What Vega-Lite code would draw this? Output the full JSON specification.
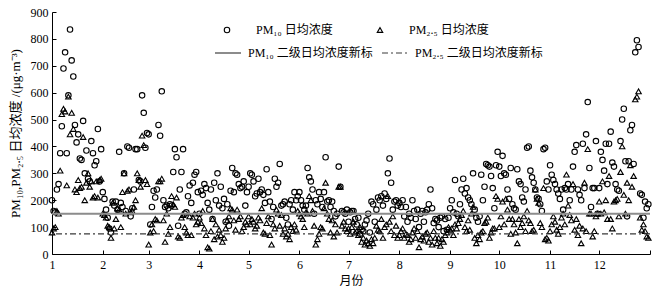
{
"$schema":"https://vega.github.io/schema/vega-lite/v6.json",
"width":598,"height":242,
"autosize":{"type":"none"},
"padding":{"left":52,"top":12,"right":5,"bottom":40},
"background":"white",
"config":{"view":{"stroke":null},"font":"Liberation Serif, Noto Sans CJK SC",
 "axis":{"domainColor":"black","tickColor":"black","labelColor":"black","titleColor":"black","labelFont":"Liberation Serif, Noto Sans CJK SC","titleFont":"Liberation Serif, Noto Sans CJK SC","labelFontSize":12,"titleFontSize":12,"titleFontWeight":"normal","grid":false,"tickSize":-4,"domainWidth":1,"tickWidth":1},
 "legend":{"labelFont":"Liberation Serif, Noto Sans CJK SC","labelFontSize":12,"labelColor":"black","padding":0}
},
"encoding":{"y":{"field":"value","type":"quantitative","scale":{"domain":[0,900],"nice":false},"axis":{"title":"PM₁₀,PM₂.₅ 日均浓度 /(μg·m⁻³)","titleFontSize":13,"values":[0,100,200,300,400,500,600,700,800,900],"labelPadding":8,"titlePadding":8}}},
"layer":[
{"data":{"values":[
{"d":1,"pm10":200,"pm25":80},{"d":2,"pm10":160,"pm25":95},{"d":3,"pm10":155,"pm25":100},{"d":4,"pm10":240,"pm25":160},{"d":5,"pm10":260,"pm25":150},{"d":6,"pm10":375,"pm25":310},{"d":7,"pm10":475,"pm25":520},{"d":8,"pm10":690,"pm25":540},{"d":9,"pm10":750,"pm25":530},{"d":10,"pm10":375,"pm25":255},
{"d":11,"pm10":590,"pm25":585},{"d":12,"pm10":835,"pm25":445},{"d":13,"pm10":720,"pm25":525},{"d":14,"pm10":660,"pm25":465},{"d":15,"pm10":480,"pm25":240},{"d":16,"pm10":415,"pm25":230},{"d":17,"pm10":445,"pm25":275},{"d":18,"pm10":355,"pm25":245},{"d":19,"pm10":350,"pm25":250},{"d":20,"pm10":495,"pm25":435},
{"d":21,"pm10":300,"pm25":200},{"d":22,"pm10":385,"pm25":265},{"d":23,"pm10":280,"pm25":300},{"d":24,"pm10":270,"pm25":250},{"d":25,"pm10":420,"pm25":270},{"d":26,"pm10":375,"pm25":210},{"d":27,"pm10":330,"pm25":215},{"d":28,"pm10":345,"pm25":270},{"d":29,"pm10":465,"pm25":210},{"d":30,"pm10":270,"pm25":275},
{"d":31,"pm10":390,"pm25":280},
{"d":32,"pm10":230,"pm25":150},{"d":33,"pm10":205,"pm25":145},{"d":34,"pm10":165,"pm25":135},{"d":35,"pm10":135,"pm25":105},{"d":36,"pm10":95,"pm25":100},{"d":37,"pm10":80,"pm25":60},{"d":38,"pm10":195,"pm25":190},{"d":39,"pm10":180,"pm25":95},{"d":40,"pm10":195,"pm25":130},{"d":41,"pm10":165,"pm25":170},
{"d":42,"pm10":380,"pm25":165},{"d":43,"pm10":190,"pm25":100},{"d":44,"pm10":175,"pm25":230},{"d":45,"pm10":300,"pm25":300},{"d":46,"pm10":160,"pm25":150},{"d":47,"pm10":400,"pm25":235},{"d":48,"pm10":395,"pm25":240},{"d":49,"pm10":140,"pm25":155},{"d":50,"pm10":170,"pm25":160},{"d":51,"pm10":240,"pm25":175},
{"d":52,"pm10":390,"pm25":200},{"d":53,"pm10":390,"pm25":300},{"d":54,"pm10":275,"pm25":275},{"d":55,"pm10":270,"pm25":250},{"d":56,"pm10":590,"pm25":440},{"d":57,"pm10":525,"pm25":405},{"d":58,"pm10":395,"pm25":275},{"d":59,"pm10":450,"pm25":260},
{"d":60,"pm10":445,"pm25":35},{"d":61,"pm10":110,"pm25":80},{"d":62,"pm10":175,"pm25":110},{"d":63,"pm10":235,"pm25":85},{"d":64,"pm10":210,"pm25":130},{"d":65,"pm10":240,"pm25":125},{"d":66,"pm10":480,"pm25":270},{"d":67,"pm10":440,"pm25":270},{"d":68,"pm10":605,"pm25":280},{"d":69,"pm10":200,"pm25":125},
{"d":70,"pm10":175,"pm25":45},{"d":71,"pm10":180,"pm25":150},{"d":72,"pm10":170,"pm25":75},{"d":73,"pm10":185,"pm25":100},{"d":74,"pm10":180,"pm25":215},{"d":75,"pm10":305,"pm25":185},{"d":76,"pm10":390,"pm25":175},{"d":77,"pm10":360,"pm25":210},{"d":78,"pm10":105,"pm25":65},{"d":79,"pm10":240,"pm25":60},
{"d":80,"pm10":305,"pm25":135},{"d":81,"pm10":390,"pm25":145},{"d":82,"pm10":150,"pm25":100},{"d":83,"pm10":155,"pm25":80},{"d":84,"pm10":215,"pm25":70},{"d":85,"pm10":255,"pm25":140},{"d":86,"pm10":190,"pm25":70},{"d":87,"pm10":265,"pm25":135},{"d":88,"pm10":295,"pm25":150},{"d":89,"pm10":305,"pm25":110},
{"d":90,"pm10":230,"pm25":120},
{"d":91,"pm10":150,"pm25":135},{"d":92,"pm10":235,"pm25":115},{"d":93,"pm10":220,"pm25":160},{"d":94,"pm10":260,"pm25":95},{"d":95,"pm10":245,"pm25":70},{"d":96,"pm10":190,"pm25":25},{"d":97,"pm10":165,"pm25":20},{"d":98,"pm10":240,"pm25":85},{"d":99,"pm10":130,"pm25":130},{"d":100,"pm10":265,"pm25":55},
{"d":101,"pm10":200,"pm25":110},{"d":102,"pm10":300,"pm25":65},{"d":103,"pm10":180,"pm25":90},{"d":104,"pm10":250,"pm25":70},{"d":105,"pm10":170,"pm25":45},{"d":106,"pm10":205,"pm25":60},{"d":107,"pm10":120,"pm25":95},{"d":108,"pm10":185,"pm25":125},{"d":109,"pm10":105,"pm25":140},{"d":110,"pm10":235,"pm25":170},
{"d":111,"pm10":320,"pm25":165},{"d":112,"pm10":230,"pm25":125},{"d":113,"pm10":300,"pm25":90},{"d":114,"pm10":295,"pm25":165},{"d":115,"pm10":260,"pm25":130},{"d":116,"pm10":245,"pm25":140},{"d":117,"pm10":250,"pm25":85},{"d":118,"pm10":270,"pm25":100},{"d":119,"pm10":180,"pm25":120},{"d":120,"pm10":230,"pm25":110},
{"d":121,"pm10":250,"pm25":140},{"d":122,"pm10":300,"pm25":110},{"d":123,"pm10":295,"pm25":130},{"d":124,"pm10":270,"pm25":120},{"d":125,"pm10":215,"pm25":95},{"d":126,"pm10":225,"pm25":105},{"d":127,"pm10":280,"pm25":135},{"d":128,"pm10":230,"pm25":125},{"d":129,"pm10":240,"pm25":170},{"d":130,"pm10":220,"pm25":80},
{"d":131,"pm10":190,"pm25":75},{"d":132,"pm10":315,"pm25":115},{"d":133,"pm10":230,"pm25":140},{"d":134,"pm10":195,"pm25":70},{"d":135,"pm10":130,"pm25":35},{"d":136,"pm10":175,"pm25":110},{"d":137,"pm10":280,"pm25":95},{"d":138,"pm10":250,"pm25":165},{"d":139,"pm10":265,"pm25":150},{"d":140,"pm10":335,"pm25":105},
{"d":141,"pm10":180,"pm25":145},{"d":142,"pm10":185,"pm25":75},{"d":143,"pm10":195,"pm25":95},{"d":144,"pm10":135,"pm25":65},{"d":145,"pm10":110,"pm25":75},{"d":146,"pm10":185,"pm25":55},{"d":147,"pm10":200,"pm25":100},{"d":148,"pm10":165,"pm25":85},{"d":149,"pm10":230,"pm25":110},{"d":150,"pm10":200,"pm25":90},
{"d":151,"pm10":215,"pm25":160},
{"d":152,"pm10":230,"pm25":150},{"d":153,"pm10":200,"pm25":140},{"d":154,"pm10":180,"pm25":130},{"d":155,"pm10":165,"pm25":100},{"d":156,"pm10":180,"pm25":155},{"d":157,"pm10":320,"pm25":150},{"d":158,"pm10":285,"pm25":215},{"d":159,"pm10":270,"pm25":200},{"d":160,"pm10":240,"pm25":160},{"d":161,"pm10":150,"pm25":105},
{"d":162,"pm10":200,"pm25":35},{"d":163,"pm10":185,"pm25":55},{"d":164,"pm10":230,"pm25":75},{"d":165,"pm10":205,"pm25":100},{"d":166,"pm10":175,"pm25":95},{"d":167,"pm10":230,"pm25":170},{"d":168,"pm10":360,"pm25":265},{"d":169,"pm10":195,"pm25":150},{"d":170,"pm10":200,"pm25":130},{"d":171,"pm10":175,"pm25":80},
{"d":172,"pm10":195,"pm25":125},{"d":173,"pm10":160,"pm25":65},{"d":174,"pm10":140,"pm25":110},{"d":175,"pm10":150,"pm25":80},{"d":176,"pm10":325,"pm25":250},{"d":177,"pm10":250,"pm25":250},{"d":178,"pm10":160,"pm25":105},{"d":179,"pm10":155,"pm25":120},{"d":180,"pm10":150,"pm25":95},{"d":181,"pm10":165,"pm25":85},
{"d":182,"pm10":120,"pm25":95},{"d":183,"pm10":155,"pm25":75},{"d":184,"pm10":160,"pm25":100},{"d":185,"pm10":160,"pm25":120},{"d":186,"pm10":130,"pm25":80},{"d":187,"pm10":110,"pm25":85},{"d":188,"pm10":135,"pm25":70},{"d":189,"pm10":75,"pm25":100},{"d":190,"pm10":90,"pm25":45},{"d":191,"pm10":85,"pm25":60},
{"d":192,"pm10":110,"pm25":35},{"d":193,"pm10":125,"pm25":50},{"d":194,"pm10":150,"pm25":40},{"d":195,"pm10":80,"pm25":30},{"d":196,"pm10":195,"pm25":55},{"d":197,"pm10":185,"pm25":40},{"d":198,"pm10":120,"pm25":60},{"d":199,"pm10":165,"pm25":105},{"d":200,"pm10":210,"pm25":90},{"d":201,"pm10":200,"pm25":85},
{"d":202,"pm10":215,"pm25":130},{"d":203,"pm10":180,"pm25":60},{"d":204,"pm10":225,"pm25":100},{"d":205,"pm10":205,"pm25":110},{"d":206,"pm10":300,"pm25":215},{"d":207,"pm10":355,"pm25":120},{"d":208,"pm10":265,"pm25":85},{"d":209,"pm10":165,"pm25":140},{"d":210,"pm10":195,"pm25":70},{"d":211,"pm10":200,"pm25":105},
{"d":212,"pm10":180,"pm25":60},
{"d":213,"pm10":190,"pm25":70},{"d":214,"pm10":175,"pm25":85},{"d":215,"pm10":200,"pm25":95},{"d":216,"pm10":140,"pm25":60},{"d":217,"pm10":175,"pm25":75},{"d":218,"pm10":120,"pm25":70},{"d":219,"pm10":150,"pm25":45},{"d":220,"pm10":135,"pm25":55},{"d":221,"pm10":200,"pm25":80},{"d":222,"pm10":160,"pm25":95},
{"d":223,"pm10":130,"pm25":60},{"d":224,"pm10":165,"pm25":85},{"d":225,"pm10":100,"pm25":25},{"d":226,"pm10":150,"pm25":55},{"d":227,"pm10":160,"pm25":65},{"d":228,"pm10":120,"pm25":50},{"d":229,"pm10":155,"pm25":75},{"d":230,"pm10":165,"pm25":80},{"d":231,"pm10":185,"pm25":45},{"d":232,"pm10":240,"pm25":60},
{"d":233,"pm10":170,"pm25":35},{"d":234,"pm10":115,"pm25":85},{"d":235,"pm10":130,"pm25":60},{"d":236,"pm10":125,"pm25":40},{"d":237,"pm10":100,"pm25":60},{"d":238,"pm10":135,"pm25":30},{"d":239,"pm10":140,"pm25":55},{"d":240,"pm10":85,"pm25":45},{"d":241,"pm10":130,"pm25":70},{"d":242,"pm10":90,"pm25":80},
{"d":243,"pm10":135,"pm25":100},
{"d":244,"pm10":170,"pm25":90},{"d":245,"pm10":200,"pm25":95},{"d":246,"pm10":155,"pm25":70},{"d":247,"pm10":275,"pm25":110},{"d":248,"pm10":150,"pm25":95},{"d":249,"pm10":140,"pm25":115},{"d":250,"pm10":185,"pm25":130},{"d":251,"pm10":240,"pm25":145},{"d":252,"pm10":280,"pm25":160},{"d":253,"pm10":225,"pm25":100},
{"d":254,"pm10":245,"pm25":85},{"d":255,"pm10":210,"pm25":125},{"d":256,"pm10":200,"pm25":90},{"d":257,"pm10":185,"pm25":150},{"d":258,"pm10":300,"pm25":175},{"d":259,"pm10":165,"pm25":60},{"d":260,"pm10":135,"pm25":40},{"d":261,"pm10":120,"pm25":70},{"d":262,"pm10":140,"pm25":55},{"d":263,"pm10":295,"pm25":80},
{"d":264,"pm10":200,"pm25":85},{"d":265,"pm10":250,"pm25":115},{"d":266,"pm10":335,"pm25":120},{"d":267,"pm10":330,"pm25":135},{"d":268,"pm10":325,"pm25":60},{"d":269,"pm10":290,"pm25":80},{"d":270,"pm10":245,"pm25":95},{"d":271,"pm10":170,"pm25":95},{"d":272,"pm10":330,"pm25":215},{"d":273,"pm10":380,"pm25":205},
{"d":274,"pm10":325,"pm25":100},{"d":275,"pm10":290,"pm25":140},{"d":276,"pm10":365,"pm25":195},{"d":277,"pm10":300,"pm25":110},{"d":278,"pm10":295,"pm25":205},{"d":279,"pm10":240,"pm25":165},{"d":280,"pm10":205,"pm25":130},{"d":281,"pm10":320,"pm25":75},{"d":282,"pm10":185,"pm25":130},{"d":283,"pm10":170,"pm25":110},
{"d":284,"pm10":165,"pm25":80},{"d":285,"pm10":315,"pm25":40},{"d":286,"pm10":270,"pm25":130},{"d":287,"pm10":260,"pm25":100},{"d":288,"pm10":210,"pm25":115},{"d":289,"pm10":195,"pm25":140},{"d":290,"pm10":240,"pm25":85},{"d":291,"pm10":395,"pm25":160},{"d":292,"pm10":400,"pm25":125},{"d":293,"pm10":310,"pm25":115},
{"d":294,"pm10":285,"pm25":85},{"d":295,"pm10":265,"pm25":90},{"d":296,"pm10":240,"pm25":240},{"d":297,"pm10":210,"pm25":205},{"d":298,"pm10":205,"pm25":190},{"d":299,"pm10":185,"pm25":115},{"d":300,"pm10":160,"pm25":100},{"d":301,"pm10":390,"pm25":245},{"d":302,"pm10":395,"pm25":55},{"d":303,"pm10":270,"pm25":60},
{"d":304,"pm10":240,"pm25":50},
{"d":305,"pm10":330,"pm25":85},{"d":306,"pm10":295,"pm25":110},{"d":307,"pm10":275,"pm25":140},{"d":308,"pm10":260,"pm25":120},{"d":309,"pm10":240,"pm25":90},{"d":310,"pm10":225,"pm25":75},{"d":311,"pm10":205,"pm25":100},{"d":312,"pm10":240,"pm25":135},{"d":313,"pm10":165,"pm25":150},{"d":314,"pm10":245,"pm25":110},
{"d":315,"pm10":240,"pm25":295},{"d":316,"pm10":260,"pm25":180},{"d":317,"pm10":200,"pm25":145},{"d":318,"pm10":240,"pm25":125},{"d":319,"pm10":325,"pm25":260},{"d":320,"pm10":380,"pm25":90},{"d":321,"pm10":405,"pm25":130},{"d":322,"pm10":240,"pm25":70},{"d":323,"pm10":220,"pm25":105},{"d":324,"pm10":200,"pm25":40},
{"d":325,"pm10":410,"pm25":95},{"d":326,"pm10":245,"pm25":265},{"d":327,"pm10":445,"pm25":85},{"d":328,"pm10":565,"pm25":390},{"d":329,"pm10":320,"pm25":150},{"d":330,"pm10":175,"pm25":150},{"d":331,"pm10":245,"pm25":65},{"d":332,"pm10":245,"pm25":85},{"d":333,"pm10":420,"pm25":140},{"d":334,"pm10":150,"pm25":150},
{"d":335,"pm10":245,"pm25":195},{"d":336,"pm10":380,"pm25":150},{"d":337,"pm10":350,"pm25":270},{"d":338,"pm10":310,"pm25":155},{"d":339,"pm10":410,"pm25":200},{"d":340,"pm10":260,"pm25":130},{"d":341,"pm10":410,"pm25":290},{"d":342,"pm10":455,"pm25":130},{"d":343,"pm10":340,"pm25":95},{"d":344,"pm10":325,"pm25":195},
{"d":345,"pm10":260,"pm25":200},{"d":346,"pm10":240,"pm25":205},{"d":347,"pm10":235,"pm25":140},{"d":348,"pm10":420,"pm25":305},{"d":349,"pm10":500,"pm25":400},{"d":350,"pm10":540,"pm25":220},{"d":351,"pm10":345,"pm25":150},{"d":352,"pm10":140,"pm25":265},{"d":353,"pm10":345,"pm25":200},{"d":354,"pm10":460,"pm25":330},
{"d":355,"pm10":480,"pm25":250},{"d":356,"pm10":335,"pm25":290},{"d":357,"pm10":750,"pm25":575},{"d":358,"pm10":795,"pm25":585},{"d":359,"pm10":770,"pm25":605},{"d":360,"pm10":225,"pm25":135},{"d":361,"pm10":220,"pm25":90},{"d":362,"pm10":135,"pm25":110},{"d":363,"pm10":195,"pm25":85},{"d":364,"pm10":170,"pm25":65},
{"d":365,"pm10":185,"pm25":60}
]},
 "transform":[{"fold":["pm10","pm25"],"as":["series","value"]}],
 "mark":{"type":"point","filled":false,"size":30,"strokeWidth":1.1,"color":"black","opacity":1},
 "encoding":{
  "x":{"field":"d","type":"quantitative","scale":{"domain":[1,366],"nice":false,"zero":false},
   "axis":{"title":"月份","values":[1,32,60,91,121,152,182,213,244,274,305,335,366],"labelExpr":"datum.value >= 366 ? '' : '' + (indexof([1,32,60,91,121,152,182,213,244,274,305,335], datum.value) + 1)","labelFlush":false,"labelPadding":9,"titlePadding":5,"labelOverlap":false}},
  "shape":{"field":"series","type":"nominal","scale":{"domain":["pm10","pm25"],"range":["circle","triangle-up"]},
   "legend":{"title":null,"orient":"none","legendX":169,"legendY":12,"direction":"horizontal","symbolSize":30,"symbolStrokeColor":"black","symbolStrokeWidth":1.1,"symbolFillColor":"transparent","labelOffset":23,"columnPadding":41,"labelExpr":"datum.value == 'pm10' ? 'PM₁₀ 日均浓度' : 'PM₂.₅ 日均浓度'"}}
 }},
{"data":{"values":[{"value":150,"name":"a"},{"value":75,"name":"b"}]},
 "mark":{"type":"rule"},
 "encoding":{
  "strokeDash":{"field":"name","type":"nominal","scale":{"domain":["a","b"],"range":[[1,0],[6,3,2,3]]},
   "legend":{"title":null,"orient":"none","legendX":162,"legendY":27,"direction":"horizontal","symbolType":"stroke","symbolSize":676,"labelOffset":6,"columnPadding":6,"labelExpr":"datum.value == 'a' ? 'PM₁₀ 二级日均浓度新标' : 'PM₂.₅ 二级日均浓度新标'"}},
  "stroke":{"field":"name","type":"nominal","scale":{"domain":["a","b"],"range":["#8c8c8c","#3a3a3a"]},
   "legend":{"title":null,"orient":"none","legendX":162,"legendY":27,"direction":"horizontal","symbolType":"stroke","symbolSize":676,"labelOffset":6,"columnPadding":6,"labelExpr":"datum.value == 'a' ? 'PM₁₀ 二级日均浓度新标' : 'PM₂.₅ 二级日均浓度新标'"}},
  "strokeWidth":{"field":"name","type":"nominal","scale":{"domain":["a","b"],"range":[2,1.2]},
   "legend":{"title":null,"orient":"none","legendX":162,"legendY":27,"direction":"horizontal","symbolType":"stroke","symbolSize":676,"labelOffset":6,"columnPadding":6,"labelExpr":"datum.value == 'a' ? 'PM₁₀ 二级日均浓度新标' : 'PM₂.₅ 二级日均浓度新标'"}}
 }}
]
}
